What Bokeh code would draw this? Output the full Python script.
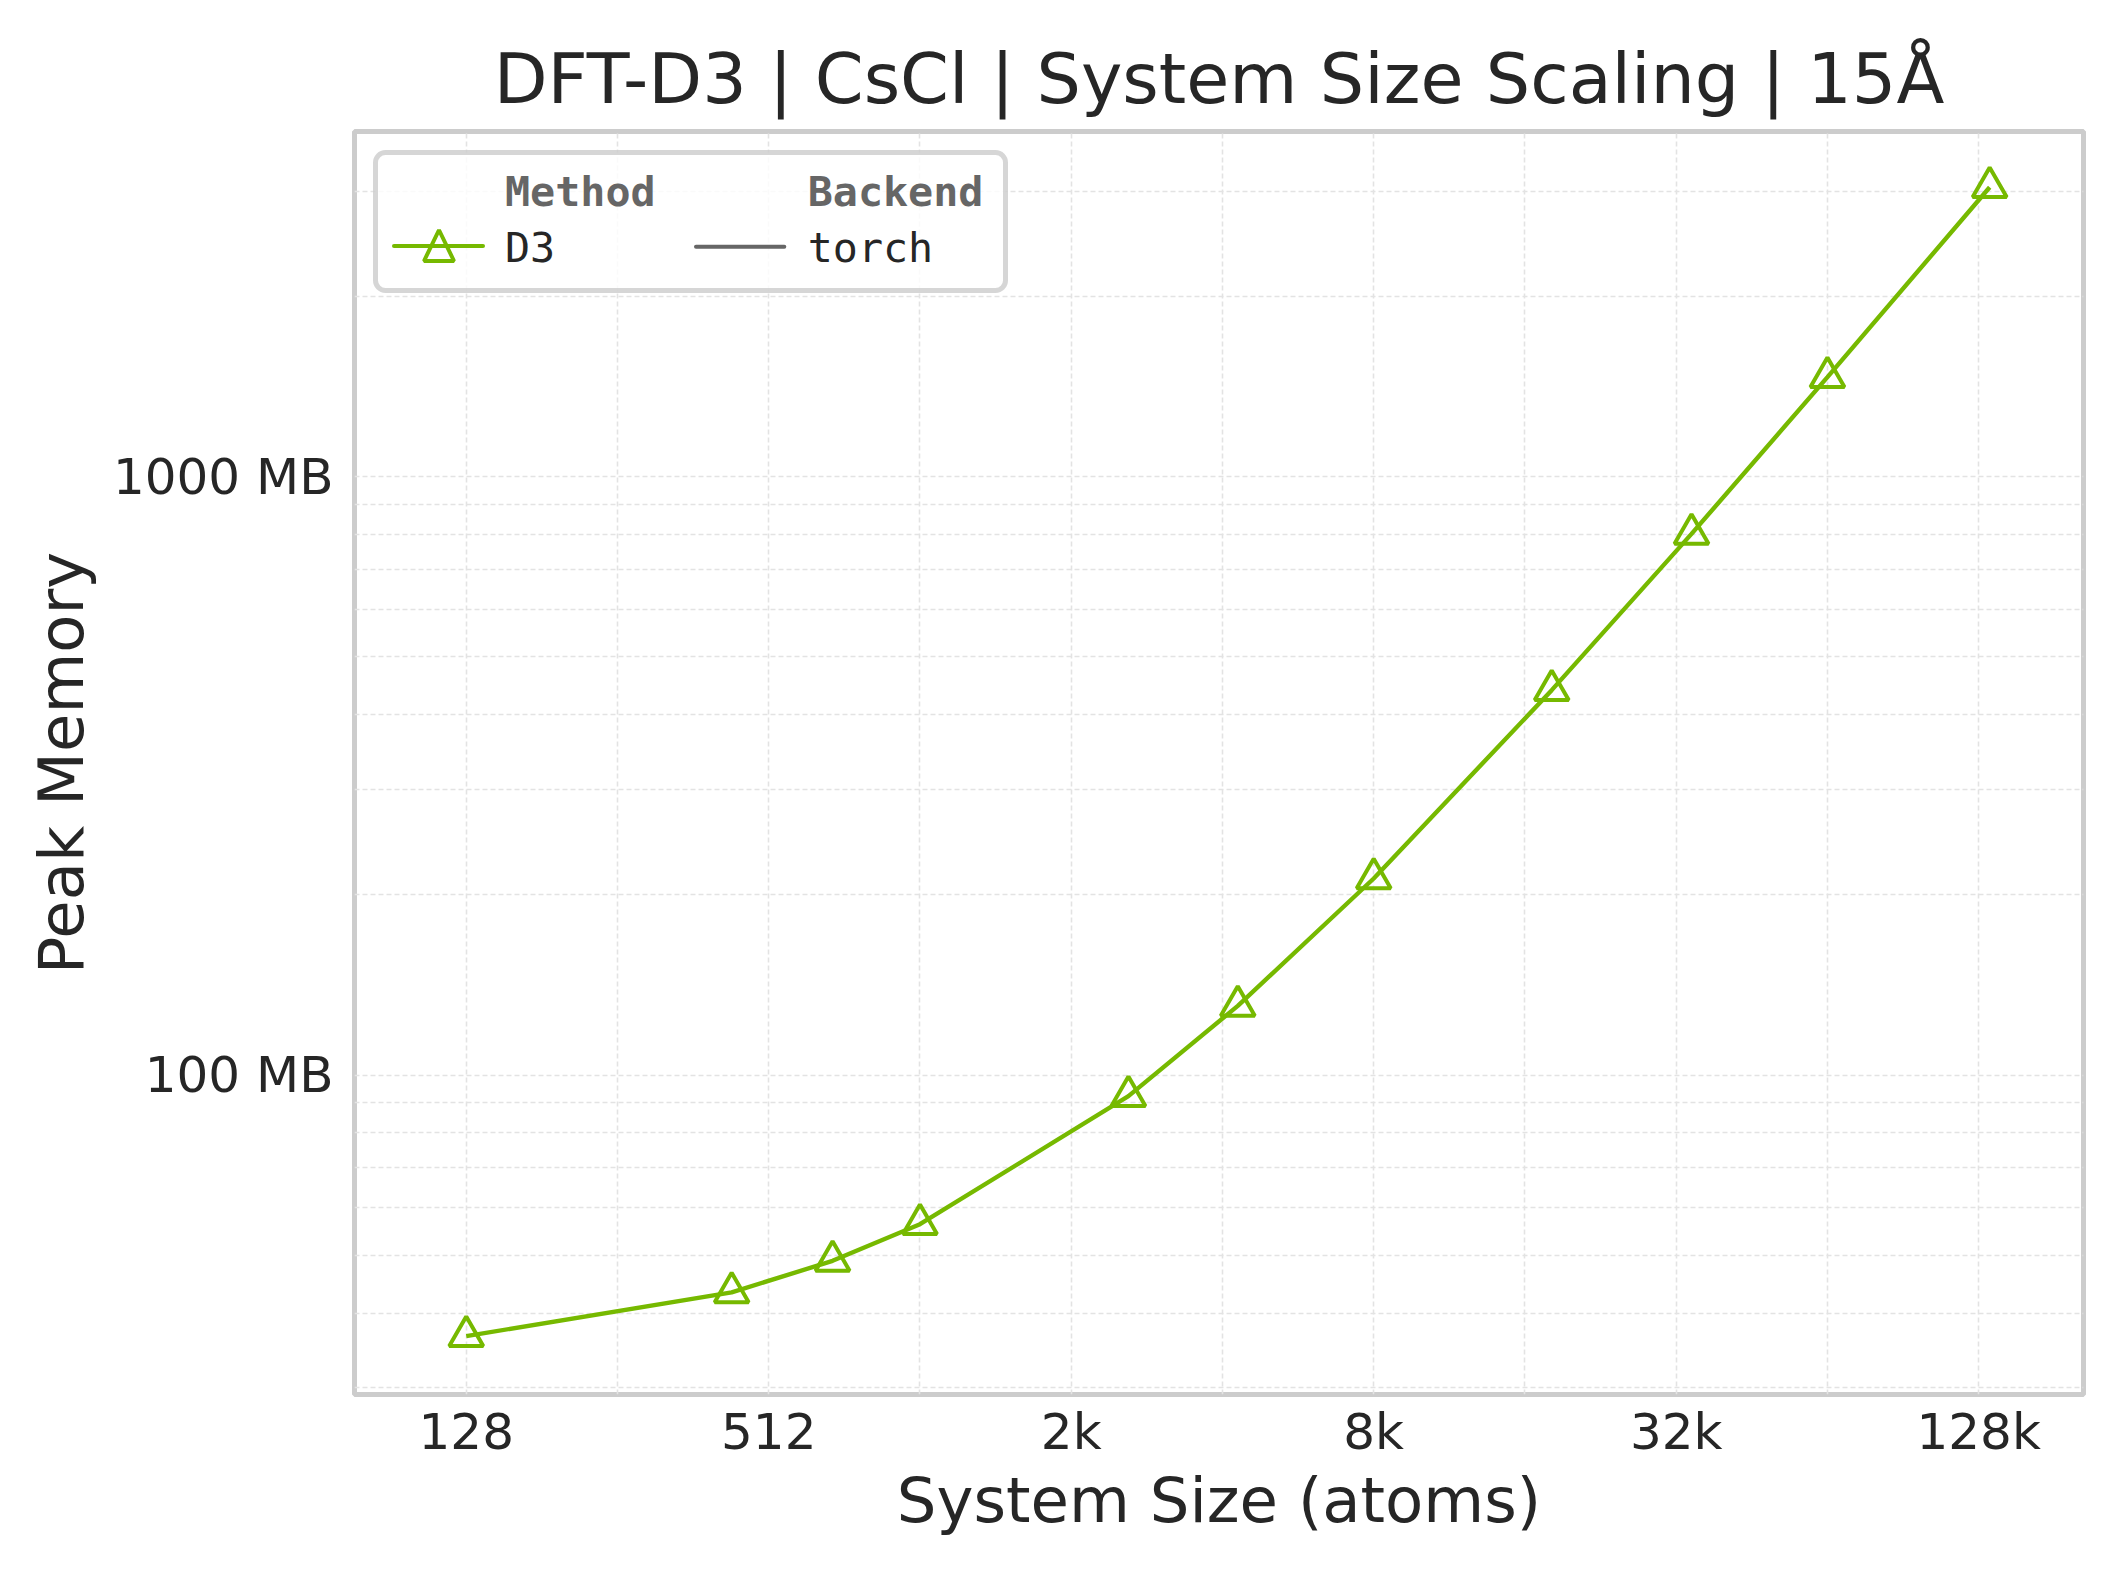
from bokeh.plotting import figure
from bokeh.models import (FixedTicker, Range1d, BoxAnnotation, Label, Arrow,
                          PolyAnnotation)
from bokeh.embed import file_html
from bokeh.resources import INLINE

# ---------------- data ----------------
atoms = [128, 432, 686, 1024, 2662, 4394, 8192, 18522, 35152, 65536, 137842]
peak_mb = [36.6, 43.3, 48.9, 56.3, 92.2, 130.5, 213.1, 440.0, 803.0, 1468.0, 3050.0]

x_major = [128, 512, 2048, 8192, 32768, 131072]
x_major_labels = ["128", "512", "2k", "8k", "32k", "128k"]
x_minor = [256, 1024, 4096, 16384, 65536]
y_major = [100, 1000]
y_major_labels = ["100 MB", "1000 MB"]
y_minor = [30, 40, 50, 60, 70, 80, 90, 200, 300, 400, 500, 600, 700, 800, 900, 2000, 3000]

title_text = "DFT-D3 | CsCl | System Size Scaling | 15Å"
x_label = "System Size (atoms)"
y_label = "Peak Memory"
legend_headers = ["Method", "Backend"]
legend_entries = ["D3", "torch"]

GREEN = "#76b900"
GRAY = "#666666"
TEXT = "#262626"
FONT = "DejaVu Sans"
MONO = "DejaVu Sans Mono"

p = figure(frame_width=1729, frame_height=1263,
           x_axis_type="log", y_axis_type="log",
           x_range=Range1d(76.7, 211900), y_range=Range1d(29.23, 3780),
           output_backend="svg", toolbar_location=None,
           min_border_left=354, min_border_right=19,
           min_border_top=131, min_border_bottom=164,
           background_fill_color="white", border_fill_color="white")

p.outline_line_color = "#cccccc"
p.outline_line_width = 5

# title
p.title.text = title_text
p.title.align = "center"
p.title.text_font = FONT
p.title.text_font_size = "70px"
p.title.text_font_style = "normal"
p.title.text_color = TEXT
p.title.standoff = 23

# axes
for ax in (p.xaxis[0], p.yaxis[0]):
    ax.axis_line_color = None
    ax.major_tick_line_color = None
    ax.minor_tick_line_color = None
    ax.major_tick_out = 0
    ax.major_tick_in = 0
    ax.minor_tick_out = 0
    ax.minor_tick_in = 0
    ax.major_label_text_font = FONT
    ax.major_label_text_font_size = "50px"
    ax.major_label_text_color = TEXT
    ax.axis_label_text_font = FONT
    ax.axis_label_text_font_size = "62.5px"
    ax.axis_label_text_font_style = "normal"
    ax.axis_label_text_color = TEXT

p.xaxis[0].ticker = FixedTicker(ticks=x_major, minor_ticks=x_minor)
p.xaxis[0].major_label_overrides = dict(zip(x_major, x_major_labels))
p.xaxis[0].axis_label = x_label
p.xaxis[0].major_label_standoff = 8
p.xaxis[0].axis_label_standoff = 0

p.yaxis[0].ticker = FixedTicker(ticks=y_major, minor_ticks=y_minor)
p.yaxis[0].major_label_overrides = dict(zip(y_major, y_major_labels))
p.yaxis[0].axis_label = y_label
p.yaxis[0].major_label_standoff = 21
p.yaxis[0].axis_label_standoff = 12

for g in (p.xgrid[0], p.ygrid[0]):
    g.grid_line_color = "#e3e3e3"
    g.grid_line_width = 1.6
    g.grid_line_dash = "5 3"
    g.minor_grid_line_color = "#e3e3e3"
    g.minor_grid_line_width = 1.6
    g.minor_grid_line_dash = "5 3"

# data
p.line(atoms, peak_mb, line_color=GREEN, line_width=4.4)
p.scatter(atoms, peak_mb, marker="triangle", size=34, fill_color=None,
          line_color=GREEN, line_width=4)

# ---------------- legend (frame-relative screen units) ----------------
box = BoxAnnotation(left=21, right=651, bottom=1104, top=1242,
                    left_units="screen", right_units="screen",
                    bottom_units="screen", top_units="screen",
                    fill_color="white", fill_alpha=0.8,
                    line_color="#cccccc", line_alpha=0.8, line_width=5,
                    border_radius=10)
p.add_layout(box)

p.add_layout(Arrow(end=None, start=None, x_start=39.5, y_start=1148.5,
                   x_end=128.5, y_end=1148.5, start_units="screen", end_units="screen",
                   line_color=GREEN, line_width=4, line_cap="round"))
p.add_layout(PolyAnnotation(xs=[84.5, 69.5, 99.5], ys=[1164.5, 1133.5, 1133.5],
                            xs_units="screen", ys_units="screen",
                            fill_alpha=0, line_color=GREEN, line_alpha=1.0,
                            line_width=4))
p.add_layout(Arrow(end=None, start=None, x_start=341.5, y_start=1147.8,
                   x_end=429.8, y_end=1147.8, start_units="screen", end_units="screen",
                   line_color=GRAY, line_width=4, line_cap="round"))

col_x = [150.5, 453.2]
for cx, h in zip(col_x, legend_headers):
    p.add_layout(Label(x=cx, y=1203, x_units="screen", y_units="screen", text=h,
                       text_font=MONO, text_font_size="41.7px", text_font_style="bold",
                       text_color=GRAY, text_baseline="alphabetic", text_align="left"))
for cx, e in zip(col_x, legend_entries):
    p.add_layout(Label(x=cx, y=1147, x_units="screen", y_units="screen", text=e,
                       text_font=MONO, text_font_size="41.7px", text_font_style="normal",
                       text_color=TEXT, text_baseline="alphabetic", text_align="left"))

open("out.html", "w").write(file_html(p, INLINE))
